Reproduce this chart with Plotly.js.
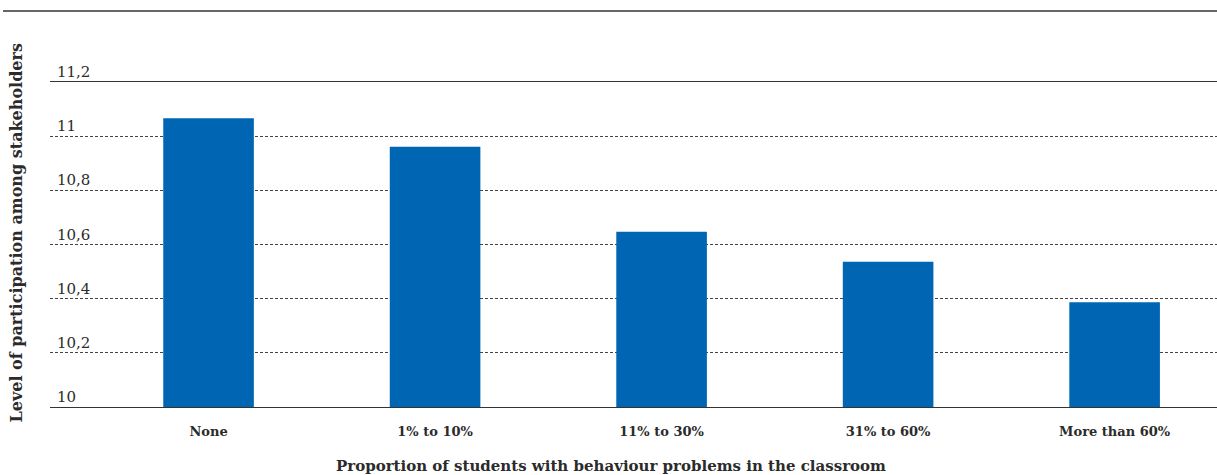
<!DOCTYPE html>
<html>
<head>
<meta charset="utf-8">
<script src="https://cdn.plot.ly/plotly-3.0.1.min.js"></script>
<style>
  html, body { margin: 0; padding: 0; background: #fff; }
  #chart { width: 1217px; height: 475px; }
</style>
</head>
<body>
<div id="chart"></div>
<script>
// Share of students with behaviour problems, by class group
const categories = ['None', '1% to 10%', '11% to 30%', '31% to 60%', 'More than 60%'];
const participation = [11.066, 10.961, 10.647, 10.536, 10.387];

// Value axis ticks (comma as decimal separator)
const yTickVals = [10, 10.2, 10.4, 10.6, 10.8, 11, 11.2];
const yTickText = ['10', '10,2', '10,4', '10,6', '10,8', '11', '11,2'];

const xTitle = 'Proportion of students with behaviour problems in the classroom';
const yTitle = 'Level of participation among stakeholders';

const FONT = 'DejaVu Serif, Liberation Serif, serif';
const INK = '#2b2b2b';

const trace = {
  type: 'bar',
  x: categories.map((_, i) => i),
  y: participation,
  width: 0.4,
  marker: { color: '#0066b3', line: { width: 0 } },
  hoverinfo: 'skip'
};

// Tick labels sit just above their gridline, at the left of the plot
const tickNotes = yTickVals.map((v, i) => ({
  xref: 'paper', yref: 'y',
  x: 0, y: v,
  xanchor: 'left', yanchor: 'bottom',
  xshift: 5, yshift: -1,
  text: yTickText[i],
  showarrow: false,
  font: { family: FONT, size: 15, color: INK }
}));

const layout = {
  width: 1217,
  height: 475,
  margin: { l: 50, r: 0, t: 82, b: 68 },
  paper_bgcolor: '#ffffff',
  plot_bgcolor: '#ffffff',
  showlegend: false,
  xaxis: {
    type: 'linear',
    range: [-0.7, 4.452],
    tickvals: categories.map((_, i) => i),
    ticktext: categories,
    ticks: '',
    showgrid: false,
    zeroline: false,
    showline: true,
    mirror: true,
    linecolor: '#333333',
    linewidth: 1.3,
    ticklabelstandoff: 12,
    tickfont: { family: FONT, size: 13, color: INK, weight: 'bold' },
    fixedrange: true
  },
  yaxis: {
    range: [10, 11.2],
    tickvals: yTickVals,
    showticklabels: false,
    ticks: '',
    showgrid: true,
    gridcolor: '#444444',
    gridwidth: 1,
    griddash: '3px,2px',
    zeroline: false,
    showline: false,
    fixedrange: true
  },
  shapes: [
    {
      type: 'line', xref: 'paper', yref: 'paper',
      x0: -0.0403, x1: 1, y0: 1.2185, y1: 1.2185,
      line: { color: '#333333', width: 1.5 }
    }
  ],
  annotations: tickNotes.concat([
    {
      xref: 'paper', yref: 'paper',
      x: 0.4807, y: -0.18,
      xanchor: 'center', yanchor: 'middle',
      text: xTitle, showarrow: false,
      font: { family: FONT, size: 15, color: INK, weight: 'bold' }
    },
    {
      xref: 'paper', yref: 'paper',
      x: -0.0283, y: 0.537,
      xanchor: 'center', yanchor: 'middle',
      textangle: -90,
      text: yTitle, showarrow: false,
      font: { family: FONT, size: 16, color: INK, weight: 'bold' }
    }
  ])
};

Plotly.newPlot('chart', [trace], layout, { displayModeBar: false, staticPlot: true });
</script>
</body>
</html>
